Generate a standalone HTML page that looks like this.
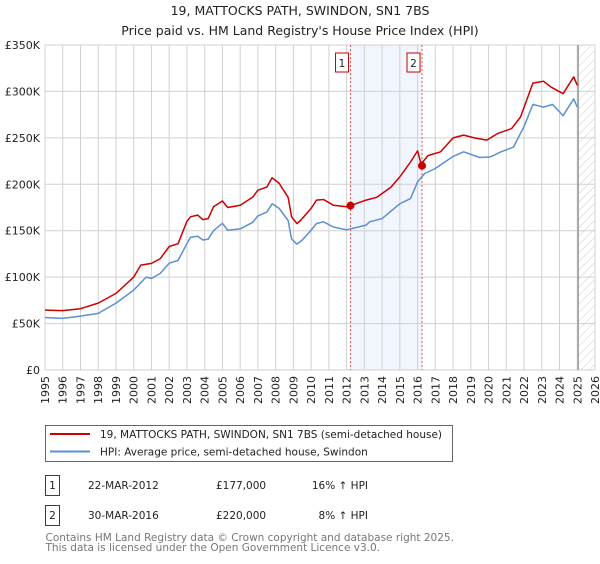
<!DOCTYPE html>
<html><head><meta charset="utf-8"><style>
body{margin:0;background:#fff;font-family:"DejaVu Sans","Liberation Sans",sans-serif;}
svg text{font-family:"DejaVu Sans","Liberation Sans",sans-serif;}
</style></head><body>
<svg id="c" width="600" height="560" viewBox="0 0 600 560" xmlns="http://www.w3.org/2000/svg">
<defs><pattern id="hatch" width="6" height="6" patternUnits="userSpaceOnUse" patternTransform="rotate(45)"><line x1="0" y1="0" x2="0" y2="6" stroke="#ccc" stroke-width="1"/></pattern></defs>
<text x="300" y="15" text-anchor="middle" font-size="12.5" fill="#222">19, MATTOCKS PATH, SWINDON, SN1 7BS</text>
<text x="300" y="35" text-anchor="middle" font-size="12.5" fill="#222">Price paid vs. HM Land Registry's House Price Index (HPI)</text>
<g id="grid"></g><g id="marks"></g><g id="axes"></g>
<rect x="45.5" y="425.5" width="407" height="36" fill="#fff" stroke="#666"/>
<line x1="50" y1="434" x2="90" y2="434" stroke="#cc0000" stroke-width="2"/>
<text x="100" y="438" font-size="10.5" fill="#222">19, MATTOCKS PATH, SWINDON, SN1 7BS (semi-detached house)</text>
<line x1="50" y1="451.5" x2="90" y2="451.5" stroke="#5b8fd4" stroke-width="2"/>
<text x="100" y="455.5" font-size="10.5" fill="#222">HPI: Average price, semi-detached house, Swindon</text>
<g>
<rect x="45.5" y="475.5" width="14" height="20" fill="#fff" stroke="#cc0000"/>
<text x="52.5" y="489" text-anchor="middle" font-size="10.5" fill="#222">1</text>
<text x="88" y="489" font-size="10.5" fill="#222">22-MAR-2012</text>
<text x="216" y="489" font-size="10.5" fill="#222">£177,000</text>
<text x="368" y="489" text-anchor="end" font-size="10.5" fill="#222">16% ↑ HPI</text></g>
<g>
<rect x="45.5" y="505.5" width="14" height="20" fill="#fff" stroke="#cc0000"/>
<text x="52.5" y="519" text-anchor="middle" font-size="10.5" fill="#222">2</text>
<text x="88" y="519" font-size="10.5" fill="#222">30-MAR-2016</text>
<text x="216" y="519" font-size="10.5" fill="#222">£220,000</text>
<text x="368" y="519" text-anchor="end" font-size="10.5" fill="#222">8% ↑ HPI</text></g>
<text x="45.5" y="541" font-size="10.5" fill="#777">Contains HM Land Registry data © Crown copyright and database right 2025.</text>
<text x="45.5" y="551" font-size="10.5" fill="#777">This data is licensed under the Open Government Licence v3.0.</text>
</svg>
<script>
const hpiYears=[1995,1996,1997,1998,1999,2000,2000.7,2001,2001.5,2002,2002.5,2003,2003.2,2003.6,2003.9,2004.2,2004.5,2005,2005.3,2006,2006.7,2007,2007.5,2007.8,2008.2,2008.7,2008.9,2009.2,2009.5,2010,2010.3,2010.7,2011.25,2012,2013.1,2013.3,2014,2015,2015.6,2016,2016.4,2017,2018,2018.6,2019.5,2020.1,2020.7,2021.4,2022,2022.5,2023.1,2023.6,2024.2,2024.8,2025];
const hpiValues=[56.5,55.6,58,61,72,86,100,98.6,104,115,118,136,143,144,140,141,150,158,150.6,152,159,166,170,179,174,161,141,135.6,140,150.6,157.8,159.6,154,151,156,159.6,163,179,184.6,202.6,211.6,217,230,235,228.8,229.5,235,240,262,286,283,286,274,292,283];
const priceYears=[1995,1996,1997,1998,1999,2000,2000.4,2001,2001.5,2002,2002.5,2003,2003.2,2003.6,2003.9,2004.2,2004.5,2005,2005.3,2006,2006.7,2007,2007.5,2007.8,2008.2,2008.7,2008.9,2009.2,2009.4,2010,2010.3,2010.7,2011.25,2012,2012.22,2013.1,2013.7,2014.5,2015,2015.6,2016,2016.2,2016.6,2017.3,2018,2018.6,2019.2,2019.9,2020.5,2021.3,2021.8,2022.5,2023.1,2023.5,2024.2,2024.8,2025];
const priceValues=[64.5,64,66,72,82.5,100,113,114.8,120,133,136,160,165,166.8,162,163,175.7,182,175,177.5,186,193.6,197,207,201,186,165,157.8,161,174,183,183.6,177.5,175.7,177,183,186,197,208,224,236,222,231,235,250,253,250,247.6,254.6,260,272.5,309,311,305,297.6,315.6,306.6];
const saleYears=[2012.22,2016.25];
const saleValues=[177,220];
const saleLabels=["1","2"];
const yTicks=[0,50,100,150,200,250,300,350];
const yTickLabels=["£0","£50K","£100K","£150K","£200K","£250K","£300K","£350K"];
const xTicks=[1995,1996,1997,1998,1999,2000,2001,2002,2003,2004,2005,2006,2007,2008,2009,2010,2011,2012,2013,2014,2015,2016,2017,2018,2019,2020,2021,2022,2023,2024,2025,2026];
const L=45,R=595,T=45,B=370;
const xs=y=>L+(y-1995)/(2026-1995)*(R-L);
const ys=v=>B-v/350*(B-T);
const NS="http://www.w3.org/2000/svg";
function mk(p,tag,a){const e=document.createElementNS(NS,tag);for(const k in a)e.setAttribute(k,a[k]);p.appendChild(e);return e;}
const grid=document.getElementById('grid'),marks=document.getElementById('marks'),axes=document.getElementById('axes');
const sh=mk(grid,'rect',{x:xs(saleYears[0]),y:T,width:xs(saleYears[1])-xs(saleYears[0]),height:B-T,fill:'#eef3fc',opacity:0.8});


const ht=mk(grid,'rect',{x:xs(2025.05),y:T,width:R-xs(2025.05),height:B-T,fill:'url(#hatch)'});


xTicks.forEach((t,i)=>{
 const l=mk(grid,'line',{x1:xs(t),x2:xs(t),y1:T,y2:B,stroke:'#d0d0d0','stroke-width':1});
 
 
 const x=xs(t)+4;
 const tx=mk(axes,'text',{x:x,y:B+6,'font-size':11,fill:'#222','text-anchor':'end',transform:`rotate(-90 ${x} ${B+6})`});
 tx.textContent=t;
 
 
});
yTicks.forEach((t,i)=>{
 const l=mk(grid,'line',{x1:L,x2:R,y1:ys(t),y2:ys(t),stroke:'#d0d0d0','stroke-width':1});
 
 
 const tx=mk(axes,'text',{x:40,y:ys(t)+4,'font-size':11,fill:'#222','text-anchor':'end'});
 tx.textContent=yTickLabels[i];
 
 
});
const nl=mk(grid,'line',{x1:xs(2025.05),x2:xs(2025.05),y1:T,y2:B,stroke:'#888','stroke-width':1.2});


saleYears.forEach((y,i)=>{
 const d=mk(marks,'line',{x1:xs(y),x2:xs(y),y1:T,y2:B,stroke:'#e05555','stroke-width':1,'stroke-dasharray':'2,2'});
 
 
});
function line(xa,va,color,name){
 const d=xa.map((x,i)=>(i?'L':'M')+xs(x).toFixed(1)+','+ys(va[i]).toFixed(1)).join('');
 const p=mk(marks,'path',{d:d,fill:'none',stroke:color,'stroke-width':1.5,'stroke-linejoin':'round'});
 
 
}
line(hpiYears,hpiValues,'#5b8fd4','hpi-line');
line(priceYears,priceValues,'#cc0000','price-line');
saleYears.forEach((y,i)=>{
 const c=mk(marks,'circle',{cx:xs(y),cy:ys(saleValues[i]),r:4,fill:'#cc0000'});
 
 
 const bx=xs(y)-15;
 const r=mk(marks,'rect',{x:bx,y:53,width:13,height:19,fill:'#fff',stroke:'#cc0000'});
 
 
 const t=mk(marks,'text',{x:bx+6.5,y:67,'font-size':10.5,'text-anchor':'middle',fill:'#222'});
 t.textContent=saleLabels[i];
 
 
});
</script>
</body></html>
